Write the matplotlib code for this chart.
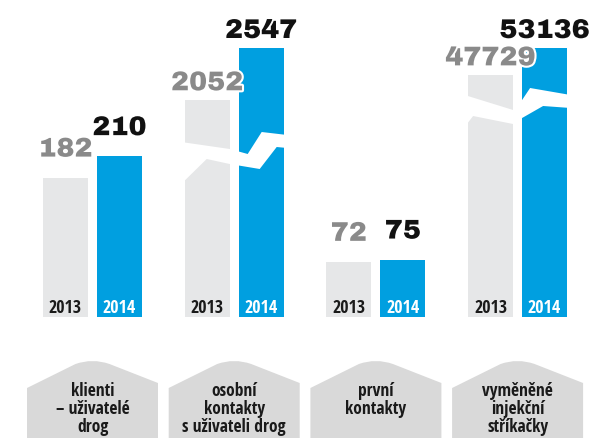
import matplotlib.pyplot as plt
import matplotlib.patheffects as pe
from matplotlib.path import Path
from matplotlib.patches import PathPatch, Polygon
import numpy as np

# data
categories = ["klienti\n– uživatelé\ndrog",
              "osobní\nkontakty\ns uživateli drog",
              "první\nkontakty",
              "vyměněné\ninjekční\nstříkačky"]
years = ["2013", "2014"]
values_2013 = [182, 2052, 72, 47729]
values_2014 = [210, 2547, 75, 53136]
broken = [False, True, False, True]   # groups drawn with a cut in the bars

# style
GRAY_BAR = "#e6e7e8"
BLUE = "#009fe0"
BOX = "#d9d9d9"
NUM_GRAY = "#8a8a8a"
NUM_BLACK = "#111111"
NARROW = ["Open Sans Condensed", "DejaVu Sans"]
HEAVY = ["Archivo Black", "DejaVu Sans"]
PX = 141.7          # pixels per group step
SCALE = 0.766       # height units per value for normal groups
CAP = 269           # height of the tallest bar in a cut group

# cut shapes (x in px from group centre, y in px from cut centre, up = +)
cut_shapes = {
    1: (165, [(-53, 10), (-4.5, 3), (13.5, -2), (27.5, 20), (53, 17),
              (53, 4), (42.5, 5), (25.5, -17), (-4.5, -12), (-27.5, -7), (-53, -32)]),
    3: (207, [(-53, 15), (-4.5, 0), (4.5, 10), (12.5, 22), (53, 15),
              (53, 2), (25.5, 4), (4.5, -8), (-4.5, -14), (-44.5, -6), (-53, -17)]),
}

fig = plt.figure(figsize=(6.02, 4.39), dpi=100)
ax = fig.add_axes([0, 0, 1, 1])
ax.set_xlim(-92.5 / PX, (602 - 92.5) / PX)
ax.set_ylim(-121, 318)
ax.axis("off")

w = 45 / PX
off = 27 / PX
x = np.arange(len(categories))

heights = []
for i in range(len(categories)):
    s = CAP / max(values_2013[i], values_2014[i]) if broken[i] else SCALE
    heights.append((values_2013[i] * s, values_2014[i] * s))
h13 = [h[0] for h in heights]
h14 = [h[1] for h in heights]

ax.bar(x - off, h13, width=w, color=GRAY_BAR, zorder=1)
ax.bar(x + off, h14, width=w, color=BLUE, zorder=1)

# white cuts
for i, (yc, pts) in cut_shapes.items():
    poly = [(x[i] + px / PX, yc + py) for px, py in pts]
    ax.add_patch(Polygon(poly, closed=True, facecolor="white", edgecolor="none", zorder=2))

stroke = [pe.withStroke(linewidth=3, foreground="white")]
for i in range(len(categories)):
    pad = 10 if broken[i] else 21
    ax.text(x[i] - off, h13[i] + pad, str(values_2013[i]), ha="center", va="baseline",
            family=HEAVY, fontsize=19.5, color=NUM_GRAY, path_effects=stroke, zorder=3)
    ax.text(x[i] + off, h14[i] + pad, str(values_2014[i]), ha="center", va="baseline",
            family=HEAVY, fontsize=19.5, color=NUM_BLACK, path_effects=stroke, zorder=4)
    ax.text(x[i] - off, 5, years[0], ha="center", va="baseline", family=NARROW,
            fontsize=13, fontweight="bold", color="#1a1a1a", zorder=3)
    ax.text(x[i] + off, 5, years[1], ha="center", va="baseline", family=NARROW,
            fontsize=13, fontweight="bold", color="white", zorder=3)

# label boxes with a peaked roof
bw = 131 / PX
for i, lab in enumerate(categories):
    x0, x1, xc = x[i] - bw / 2, x[i] + bw / 2, x[i]
    verts = [(x0, -130), (x0, -71), (xc - 0.12, -47), (xc, -41), (xc + 0.12, -47),
             (x1, -66), (x1, -130), (x0, -130)]
    codes = [Path.MOVETO, Path.LINETO, Path.LINETO, Path.CURVE3, Path.CURVE3,
             Path.LINETO, Path.LINETO, Path.CLOSEPOLY]
    ax.add_patch(PathPatch(Path(verts, codes), facecolor=BOX, edgecolor="none", zorder=1))
    ax.text(xc, -64, lab, ha="center", va="top", family=NARROW, fontsize=12.5,
            fontweight="bold", color="#1a1a1a", linespacing=1.0, zorder=3)

fig.savefig("out.png", dpi=100)
